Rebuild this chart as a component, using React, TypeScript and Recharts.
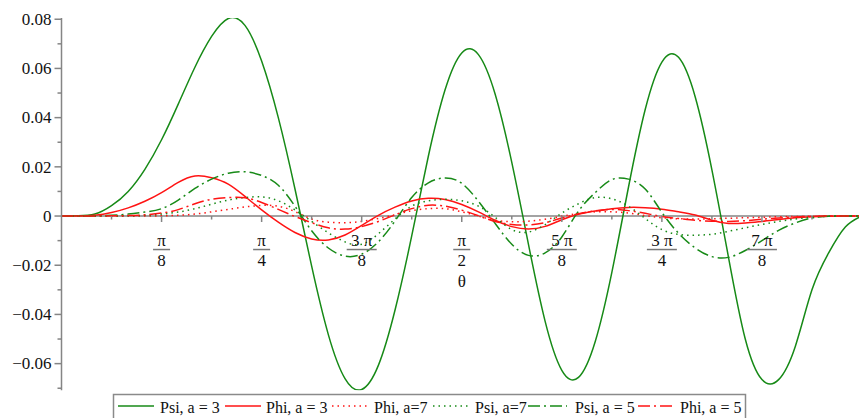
import React from 'react';
import { LineChart, Line, XAxis, YAxis, ReferenceLine, ReferenceDot } from 'recharts';

// theta grid: k * pi / 48, k = 0..48
const STEPS = 48;
const THETA = Array.from({ length: STEPS + 1 }, (_, k) => (k * Math.PI) / STEPS);

const PSI_A3 = [
  0, 0.0001, 0.0008, 0.0042, 0.0100, 0.0190, 0.0310, 0.0455, 0.0605, 0.0730, 0.0803, 0.0775,
  0.0630, 0.0400, 0.0110, -0.0204, -0.0482, -0.0661, -0.0705, -0.0607, -0.0382, -0.0081, 0.0244, 0.0513,
  0.0663, 0.0656, 0.0496, 0.0218, -0.0115, -0.0428, -0.0627, -0.0656, -0.0511, -0.0229, 0.0118, 0.0433,
  0.0626, 0.0645, 0.0484, 0.0188, -0.0170, -0.0500, -0.0665, -0.0665, -0.0530, -0.0300, -0.0150, -0.0045, 0,
];
const PHI_A3 = [
  0, 0, 0.0003, 0.0014, 0.0033, 0.0060, 0.0095, 0.0137, 0.0163, 0.0156, 0.0130, 0.0080,
  0.0025, -0.0025, -0.0067, -0.0093, -0.0097, -0.0077, -0.0038, 0.0003, 0.0036, 0.0061, 0.0072, 0.0067,
  0.0047, 0.0017, -0.0017, -0.0043, -0.0053, -0.0042, -0.0015, 0.0007, 0.0020, 0.0030, 0.0035, 0.0034,
  0.0028, 0.0017, 0.0004, -0.0017, -0.0030, -0.0028, -0.0022, -0.0014, -0.0007, -0.0003, -0.0001, 0, 0,
];
const PHI_A7 = [
  0, 0, 0, 0, 0, 0, 0.0001, 0.0003, 0.0008, 0.0017, 0.0027, 0.0037,
  0.0043, 0.0040, 0.0018, -0.0012, -0.0025, -0.0027, -0.0022, -0.0010, 0.0005, 0.0022, 0.0030, 0.0030,
  0.0017, 0.0000, -0.0017, -0.0023, -0.0021, -0.0013, -0.0001, 0.0011, 0.0017, 0.0017, 0.0012, 0.0002,
  -0.0007, -0.0011, -0.0012, -0.0011, -0.0009, -0.0007, -0.0005, -0.0003, -0.0002, -0.0001, 0, 0, 0,
];
const PSI_A7 = [
  0, 0, 0, 0, 0.0001, 0.0003, 0.0008, 0.0016, 0.0030, 0.0048, 0.0065, 0.0075,
  0.0078, 0.0062, 0.0025, -0.0022, -0.0068, -0.0105, -0.0115, -0.0072, -0.0012, 0.0040, 0.0062, 0.0068,
  0.0062, 0.0040, -0.0005, -0.0055, -0.0065, -0.0035, 0.0012, 0.0050, 0.0075, 0.0070, 0.0040, -0.0010,
  -0.0055, -0.0075, -0.0078, -0.0074, -0.0062, -0.0048, -0.0034, -0.0022, -0.0012, -0.0005, -0.0001, 0, 0,
];
const PSI_A5 = [
  0, 0, 0.0001, 0.0003, 0.0008, 0.0016, 0.0030, 0.0065, 0.0112, 0.0150, 0.0174, 0.0180,
  0.0165, 0.0125, 0.0040, -0.0060, -0.0130, -0.0163, -0.0155, -0.0105, -0.0020, 0.0075, 0.0135, 0.0155,
  0.0133, 0.0060, -0.0030, -0.0115, -0.0160, -0.0150, -0.0085, 0.0020, 0.0095, 0.0148, 0.0150, 0.0110,
  0.0015, -0.0070, -0.0130, -0.0165, -0.0168, -0.0140, -0.0100, -0.0058, -0.0028, -0.0008, -0.0001, 0, 0,
];
const PHI_A5 = [
  0, 0, 0, 0.0001, 0.0002, 0.0005, 0.0012, 0.0026, 0.0050, 0.0068, 0.0075, 0.0074,
  0.0055, 0.0027, -0.0002, -0.0027, -0.0048, -0.0053, -0.0043, -0.0022, 0.0005, 0.0030, 0.0044, 0.0040,
  0.0024, 0.0001, -0.0022, -0.0034, -0.0036, -0.0027, -0.0008, 0.0009, 0.0021, 0.0027, 0.0022, 0.0011,
  -0.0002, -0.0010, -0.0017, -0.0021, -0.0022, -0.0019, -0.0013, -0.0008, -0.0004, -0.0001, 0, 0, 0,
];

const SERIES_NAMES = ['Psi, a = 3', 'Phi, a = 3', 'Phi, a=7', 'Psi, a=7', 'Psi, a = 5', 'Phi, a = 5'];

// tick labels: multiples of pi/8
const X_TICK_NUM = ['π', 'π', '3 π', 'π', '5 π', '3 π', '7 π'];
const X_TICK_DEN = ['8', '4', '8', '2', '8', '4', '8'];
const X_TITLE = 'θ';
const Y_TICKS = [-0.07, -0.06, -0.05, -0.04, -0.03, -0.02, -0.01, 0, 0.01, 0.02, 0.03, 0.04, 0.05, 0.06, 0.07, 0.08];
const Y_MIN = -0.0708;
const Y_MAX = 0.0805;

const GREEN = '#178a17';
const RED = '#ff1414';
const AXIS = '#858585';
const SERIF = '"Liberation Serif", "Times New Roman", serif';

const STYLES = [
  { key: 'psi3', values: PSI_A3, color: GREEN, dash: undefined as string | undefined },
  { key: 'phi3', values: PHI_A3, color: RED, dash: undefined },
  { key: 'phi7', values: PHI_A7, color: RED, dash: '1.5 4' },
  { key: 'psi7', values: PSI_A7, color: GREEN, dash: '1.5 4' },
  { key: 'psi5', values: PSI_A5, color: GREEN, dash: '12 4 2 4' },
  { key: 'phi5', values: PHI_A5, color: RED, dash: '12 4 2 4' },
];

const data = THETA.map((t, i) => {
  const row: Record<string, number> = { t };
  STYLES.forEach((s) => {
    row[s.key] = s.values[i];
  });
  return row;
});

const fmtY = (v: number) => {
  if (Math.abs(v) < 1e-9) return '0';
  return (v < 0 ? '\u2212' : '') + Math.abs(v).toFixed(2);
};

const YTick = (props: any) => {
  const { x, y, payload } = props;
  const v = payload.value as number;
  const major = Math.abs(Math.round(v * 50) - v * 50) < 1e-6;
  return (
    <g>
      <line x1={x - (major ? 7 : 4)} x2={x} y1={y} y2={y} stroke={AXIS} strokeWidth={1.5} />
      {major && (
        <text x={x - 10} y={y} dy="0.34em" textAnchor="end" fontSize={17} fontFamily={SERIF} fill="#111">
          {fmtY(v)}
        </text>
      )}
    </g>
  );
};

const MinorTick = (p: any) => (
  <line x1={p.cx} x2={p.cx} y1={p.cy} y2={p.cy + 3.5} stroke={AXIS} strokeWidth={1.5} />
);

const makeMajorTick = (i: number) => (p: any) => {
  const { cx, cy } = p;
  const num = X_TICK_NUM[i];
  const den = X_TICK_DEN[i];
  const barW = num.length > 1 ? 30 : 17;
  return (
    <g>
      <line x1={cx} x2={cx} y1={cy} y2={cy + 6} stroke={AXIS} strokeWidth={1.5} />
      <text x={cx} y={cy + 29.5} textAnchor="middle" fontSize={17} fontFamily={SERIF} fill="#111">
        {num}
      </text>
      <line x1={cx - barW / 2} x2={cx + barW / 2} y1={cy + 33.5} y2={cy + 33.5} stroke="#777" strokeWidth={1.5} />
      <text x={cx} y={cy + 49.5} textAnchor="middle" fontSize={17} fontFamily={SERIF} fill="#111">
        {den}
      </text>
    </g>
  );
};

const TitleMark = (p: any) => (
  <text x={p.cx} y={p.cy + 71} textAnchor="middle" fontSize={17} fontFamily={SERIF} fill="#111">
    {X_TITLE}
  </text>
);

// legend layout (pixel positions of line samples and labels)
const LEGEND_LAYOUT = [
  { x1: 118, x2: 154, tx: 160 },
  { x1: 225, x2: 261, tx: 266 },
  { x1: 332, x2: 367, tx: 374 },
  { x1: 433, x2: 468, tx: 475 },
  { x1: 528, x2: 567, tx: 575 },
  { x1: 638, x2: 673, tx: 680 },
];

export default function App() {
  const minor = [1, 3, 5, 7, 9, 11, 13, 15];
  return (
    <div style={{ position: 'absolute', left: 0, top: 0, width: 859, height: 418, overflow: 'hidden', background: '#fff' }}>
      <LineChart width={866} height={418} data={data} margin={{ top: 18, right: 4, bottom: 27.8, left: 0 }}>
        <XAxis type="number" dataKey="t" domain={[0, Math.PI]} hide allowDataOverflow />
        <YAxis
          type="number"
          domain={[Y_MIN, Y_MAX]}
          ticks={Y_TICKS}
          interval={0}
          width={61.5}
          tickSize={0}
          tickMargin={0}
          tickLine={false}
          axisLine={{ stroke: AXIS, strokeWidth: 1.5 }}
          tick={(p: any) => <YTick {...p} />}
          allowDataOverflow
        />
        <ReferenceLine y={0} stroke={AXIS} strokeWidth={1.5} />
        {STYLES.map((s, i) => (
          <Line
            key={s.key}
            dataKey={s.key}
            name={SERIES_NAMES[i]}
            type="natural"
            stroke={s.color}
            strokeWidth={1.5}
            strokeDasharray={s.dash}
            dot={false}
            activeDot={false}
            isAnimationActive={false}
          />
        ))}
        {minor.map((k) => (
          <ReferenceDot key={'m' + k} x={(k * Math.PI) / 16} y={0} r={1} shape={MinorTick} ifOverflow="visible" />
        ))}
        {X_TICK_NUM.map((_, i) => (
          <ReferenceDot key={'M' + i} x={((i + 1) * Math.PI) / 8} y={0} r={1} shape={makeMajorTick(i)} ifOverflow="visible" />
        ))}
        <ReferenceDot x={Math.PI / 2} y={0} r={1} shape={TitleMark} ifOverflow="visible" />
      </LineChart>
      <svg width={859} height={418} style={{ position: 'absolute', left: 0, top: 0, pointerEvents: 'none' }}>
        <rect x={113.5} y={394.5} width={632} height={40} fill="#fff" stroke="#8a8a8a" strokeWidth={1.5} />
        {STYLES.map((s, i) => (
          <g key={s.key}>
            <line
              x1={LEGEND_LAYOUT[i].x1}
              x2={LEGEND_LAYOUT[i].x2}
              y1={406}
              y2={406}
              stroke={s.color}
              strokeWidth={1.5}
              strokeDasharray={s.dash}
            />
            <text x={LEGEND_LAYOUT[i].tx} y={412.5} fontSize={16} fontFamily={SERIF} fill="#111">
              {SERIES_NAMES[i]}
            </text>
          </g>
        ))}
      </svg>
    </div>
  );
}
